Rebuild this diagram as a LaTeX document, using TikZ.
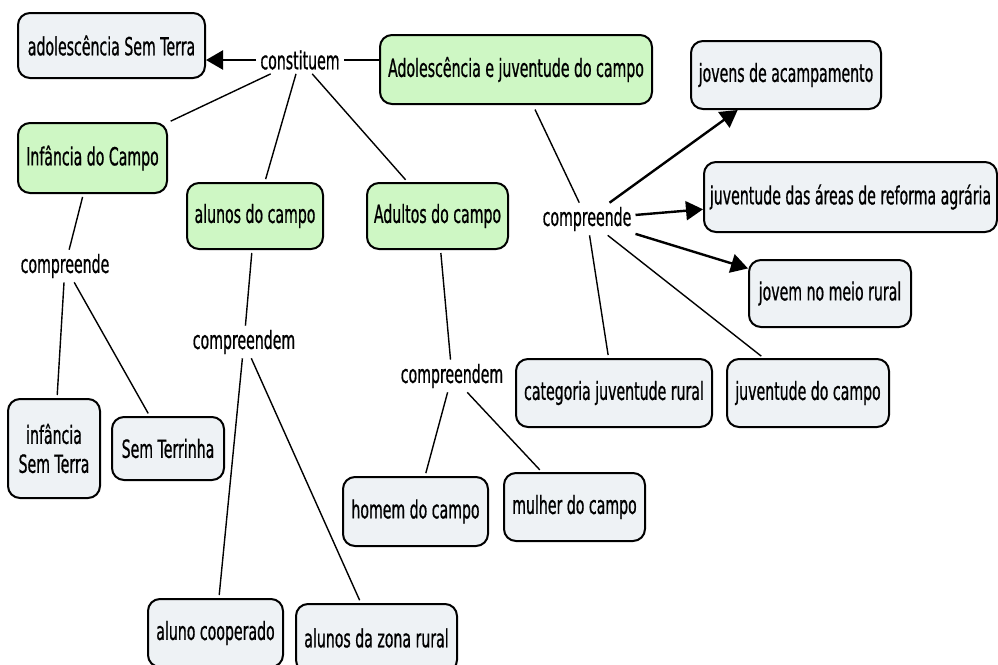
\documentclass[tikz,border=0pt]{standalone}
\usepackage{fontspec}
\setmainfont{DejaVu Sans}[FakeStretch=0.565, FakeBold=0.7]
\usetikzlibrary{arrows.meta}
\definecolor{greenfill}{RGB}{206,247,196}
\definecolor{grayfill}{RGB}{238,242,245}
\begin{document}
\begin{tikzpicture}[x=1pt,y=-1pt, font=\fontsize{25}{29}\selectfont,
 box/.style={draw=black, line width=2pt, rounded corners=12pt, inner sep=0pt, align=center},
 gbox/.style={box, fill=greenfill},
 wbox/.style={box, fill=grayfill},
 lbl/.style={inner sep=4pt},
 conn/.style={line width=1.4pt, draw=black},
 arr/.style={line width=2.4pt, draw=black, -{Triangle[length=17pt,width=19pt]}},
]
\useasboundingbox (0,0) rectangle (998,664);
% concepts
\node[wbox, minimum width=187pt, minimum height=65pt] (adolST) at (111.5,45.5) {adolescência Sem Terra};
\node[gbox, minimum width=272pt, minimum height=69pt] (adoljuv) at (516,69.5) {Adolescência e juventude do campo};
\node[gbox, minimum width=149pt, minimum height=70pt] (inf) at (92.5,158) {Infância do Campo};
\node[gbox, minimum width=136pt, minimum height=66pt] (alunos) at (255,216) {alunos do campo};
\node[gbox, minimum width=141pt, minimum height=66pt] (adultos) at (437.5,216) {Adultos do campo};
\node[wbox, minimum width=190pt, minimum height=68pt] (jovAc) at (786,75) {jovens de acampamento};
\node[wbox, minimum width=293pt, minimum height=70pt] (juvAreas) at (850.5,197) {juventude das áreas de reforma agrária};
\node[wbox, minimum width=162pt, minimum height=67pt] (jovMeio) at (830,293.5) {jovem no meio rural};
\node[wbox, minimum width=196pt, minimum height=68pt] (categ) at (614,393) {categoria juventude rural};
\node[wbox, minimum width=162pt, minimum height=68pt] (juvCampo) at (808,393) {juventude do campo};
\node[wbox, minimum width=92pt, minimum height=99pt] (infST) at (54,448.5) {infância\\Sem Terra};
\node[wbox, minimum width=112pt, minimum height=63pt] (semT) at (168,448.5) {Sem Terrinha};
\node[wbox, minimum width=145pt, minimum height=69pt] (homem) at (415.5,511.5) {homem do campo};
\node[wbox, minimum width=141pt, minimum height=68pt] (mulher) at (574.5,507) {mulher do campo};
\node[wbox, minimum width=135pt, minimum height=68pt] (alunoCoop) at (215.5,633) {aluno cooperado};
\node[wbox, minimum width=161pt, minimum height=68pt] (alunosZona) at (376.5,638) {alunos da zona rural};
% linking phrases
\node[lbl] (cons) at (300,60) {constituem};
\node[lbl] (compR) at (587,219) {compreende};
\node[lbl] (compL) at (65,266) {compreende};
\node[lbl] (compM) at (244,342) {compreendem};
\node[lbl] (compA) at (452,376) {compreendem};
% connectors
\draw[arr] (cons.west) -- (adolST.east |- cons.west);
\draw[conn] (adoljuv.west |- cons.east) -- (cons.east);
\draw[conn, shorten >=3pt] (cons) -- (inf);
\draw[conn, shorten >=3pt] (cons) -- (alunos);
\draw[conn, shorten >=3pt] (cons) -- (adultos);
\draw[conn, shorten <=3pt] (inf) -- (compL);
\draw[conn, shorten >=3pt] (compL) -- (infST);
\draw[conn, shorten >=3pt] (compL) -- (semT);
\draw[conn, shorten <=3pt] (alunos) -- (compM);
\draw[conn, shorten >=3pt] (compM) -- (alunoCoop);
\draw[conn, shorten >=3pt] (compM) -- (alunosZona);
\draw[conn, shorten <=3pt] (adultos) -- (compA);
\draw[conn, shorten >=3pt] (compA) -- (homem);
\draw[conn, shorten >=3pt] (compA) -- (mulher);
\draw[conn, shorten <=5pt] (adoljuv) -- (compR);
\draw[arr] (compR) -- (jovAc);
\draw[arr] (compR) -- (juvAreas);
\draw[arr] (compR) -- (jovMeio);
\draw[conn, shorten >=3pt] (compR) -- (juvCampo);
\draw[conn, shorten >=3pt] (compR) -- (categ);
\end{tikzpicture}
\end{document}
